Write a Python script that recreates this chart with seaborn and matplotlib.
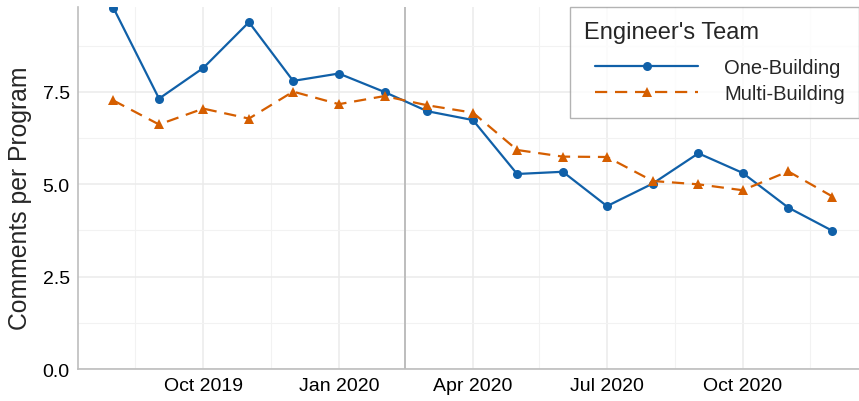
import pandas as pd
import matplotlib.pyplot as plt
import matplotlib.dates as mdates
from matplotlib.offsetbox import DrawingArea, HPacker
import seaborn as sns

# -------------------------------
# Data
# -------------------------------
months = pd.date_range("2019-08-01", "2020-12-01", freq="MS")
one_building = [9.78, 7.32, 8.15, 9.39, 7.80, 8.00, 7.50, 6.98, 6.74,
                5.28, 5.34, 4.41, 5.02, 5.84, 5.31, 4.37, 3.74]
multi_building = [7.27, 6.62, 7.05, 6.78, 7.51, 7.17, 7.39, 7.14, 6.94,
                  5.93, 5.75, 5.74, 5.09, 5.00, 4.84, 5.35, 4.67]
teams = ["One-Building", "Multi-Building"]
y_ticks = [0.0, 2.5, 5.0, 7.5]

df = pd.concat([
    pd.DataFrame({"month": months, "value": one_building, "team": teams[0]}),
    pd.DataFrame({"month": months, "value": multi_building, "team": teams[1]}),
])

sns.set_style("white")
plt.rcParams["font.family"] = ["Liberation Sans", "DejaVu Sans"]

fig = plt.figure(figsize=(8.59, 4.02), dpi=100)
ax = fig.add_axes([0.0908, 0.0796, 0.9092, 0.9004])

palette = {teams[0]: "#1060A8", teams[1]: "#D55E00"}
sns.lineplot(data=df, x="month", y="value", hue="team", style="team",
             hue_order=teams, style_order=teams, palette=palette,
             markers={teams[0]: "o", teams[1]: "^"},
             dashes={teams[0]: "", teams[1]: (5.5, 3.5)},
             markersize=6.5, markeredgewidth=0, linewidth=1.6, ax=ax)

# cutoff line
ax.axvline(pd.Timestamp("2020-02-15"), color="#BDBDBD", linewidth=1.4, zorder=1)

ax.set_xlim(pd.Timestamp("2019-07-08"), pd.Timestamp("2020-12-19"))
ax.set_ylim(0, 9.8)
ax.set_yticks(y_ticks)
ax.set_yticks([1.25, 3.75, 6.25, 8.75], minor=True)
ax.set_yticklabels([f"{t:.1f}" for t in y_ticks])

ax.xaxis.set_major_locator(mdates.MonthLocator(bymonth=[1, 4, 7, 10]))
ax.xaxis.set_major_formatter(mdates.DateFormatter("%b %Y"))
minor = [pd.Timestamp(d) for d in ["2019-08-16", "2019-11-16", "2020-05-16",
                                   "2020-08-16", "2020-11-16"]]
ax.set_xticks(minor, minor=True)

ax.grid(which="major", color="#EBEBEB", linewidth=1.1)
ax.grid(which="minor", color="#F2F2F2", linewidth=0.8)
ax.set_axisbelow(True)
ax.tick_params(axis="both", which="major", length=4, width=1.1,
               color="#333333", labelsize=14, labelcolor="black", pad=2)
ax.tick_params(which="minor", length=0)

for side in ["top", "right"]:
    ax.spines[side].set_visible(False)
for side in ["left", "bottom"]:
    ax.spines[side].set_color("#BDBDBD")
    ax.spines[side].set_linewidth(1.2)

ax.set_xlabel("")
ax.set_ylabel("Comments per Program", fontsize=17.8)
ax.yaxis.set_label_coords(-0.059, 0.475)

handles, labels = ax.get_legend_handles_labels()
leg = ax.legend(handles, labels, title="Engineer's Team", loc="upper right",
                bbox_to_anchor=(1.0, 1 - 8 / 402), bbox_transform=fig.transFigure,
                borderaxespad=0, fontsize=14.5, title_fontsize=17, frameon=True,
                fancybox=False, edgecolor="#A0A0A0", handlelength=5.1,
                handletextpad=1.3, borderpad=0.7, labelspacing=0.35,
                alignment="left")
# ggplot-style legend: entries indented under the title, more room below title
leg._legend_box.sep = 11
leg._legend_box._children[1] = HPacker(
    pad=0, sep=0, children=[DrawingArea(8, 0), leg._legend_handle_box])
leg.get_frame().set_linewidth(1.0)
for line in leg.get_lines():
    line.set_linewidth(1.6)

fig.savefig("out.png", dpi=100)
